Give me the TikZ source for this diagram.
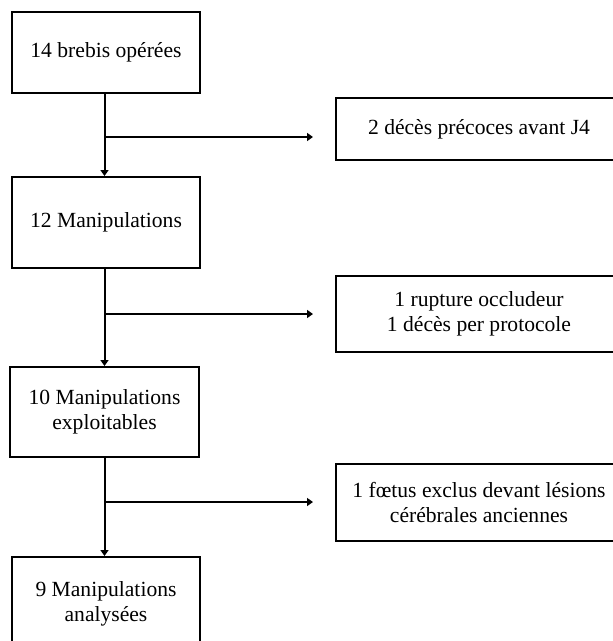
\documentclass[tikz,border=0pt]{standalone}
\usepackage{fontspec}
\setmainfont{Liberation Serif}
\usetikzlibrary{arrows.meta}
\begin{document}
\begin{tikzpicture}[x=1pt,y=-1pt,
  box/.style={draw=black,line width=2pt,align=center,inner sep=0pt,
    font=\fontsize{21.6}{25}\selectfont},
  conn/.style={line width=2pt},
  arr/.style={line width=2pt,-{Triangle[length=6pt,width=8pt]}}]
\useasboundingbox (0,0) rectangle (613,641);
\fill[white] (0,0) rectangle (613,641);
\begin{scope}
\clip (0,0) rectangle (613,641);
% left column
\node[box,minimum width=188pt,minimum height=81pt] (b1) at (106,52.5) {14 brebis opérées};
\node[box,minimum width=188pt,minimum height=91pt] (b2) at (106,222.5) {12 Manipulations};
\node[box,minimum width=189pt,minimum height=90pt] (b3) at (104.5,412) {10 Manipulations\\exploitables};
\node[box,minimum width=188pt,minimum height=94pt] (b4) at (106,604) {9 Manipulations\\analysées};
% right column
\node[box,minimum width=286pt,minimum height=62pt] (r1) at (479,129) {2 décès précoces avant J4};
\node[box,minimum width=286pt,minimum height=76pt] (r2) at (479,314) {1 rupture occludeur\\1 décès per protocole};
\node[box,minimum width=286pt,minimum height=77pt] (r3) at (479,502.5) {1 fœtus exclus devant lésions\\cérébrales anciennes};
% spine and branch points
\coordinate (spine) at (104.5,0);
\coordinate (j1) at (104.5,137);
\coordinate (j2) at (104.5,314);
\coordinate (j3) at (104.5,502);
\coordinate (e1) at (313,137);
\coordinate (e2) at (313,314);
\coordinate (e3) at (313,502);
% vertical arrows
\draw[arr] (b1.south -| spine) -- (b2.north -| spine);
\draw[arr] (b2.south -| spine) -- (b3.north -| spine);
\draw[arr] (b3.south -| spine) -- (b4.north -| spine);
% horizontal arrows
\draw[arr] (j1) -- (e1);
\draw[arr] (j2) -- (e2);
\draw[arr] (j3) -- (e3);
\end{scope}
\end{tikzpicture}
\end{document}
